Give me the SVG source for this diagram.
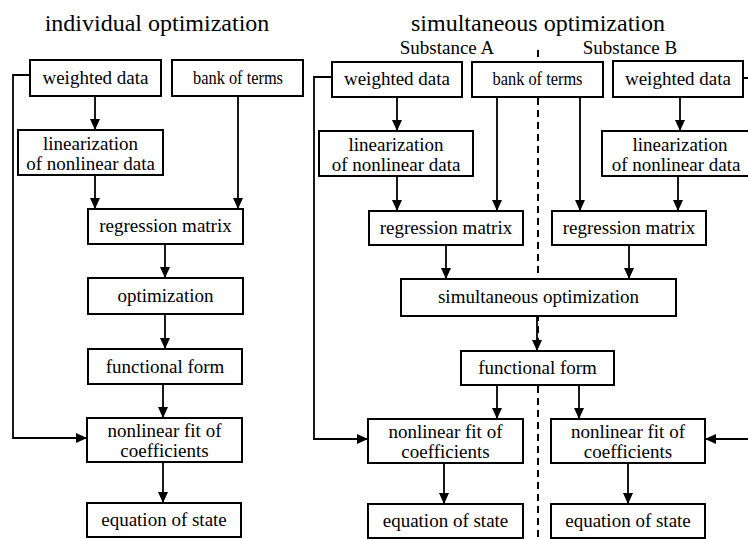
<svg xmlns="http://www.w3.org/2000/svg" width="748" height="539" viewBox="0 0 748 539">
<defs>
<marker id="ah" markerUnits="userSpaceOnUse" markerWidth="12" markerHeight="10" refX="11" refY="5" orient="auto">
<path d="M0,0 L11,5 L0,10 Z" fill="#000"/>
</marker>
<style>
.box{fill:#fff;stroke:#000;stroke-width:2}
.c{fill:none;stroke:#000;stroke-width:1.8;marker-end:url(#ah)}
.dash{fill:none;stroke:#000;stroke-width:2;stroke-dasharray:7 5}
</style>
</defs>
<rect width="748" height="539" fill="#fff"/>
<g font-family="Liberation Serif, Tinos, Times New Roman, Noto Serif, DejaVu Serif, FreeSerif, serif" text-anchor="middle" fill="#000">
<text font-size="24" x="157" y="31">individual optimization</text>
<text font-size="24" x="538" y="31">simultaneous optimization</text>
<text font-size="19" x="447" y="54">Substance A</text>
<text font-size="19" x="630" y="54">Substance B</text>
</g>
<line class="dash" x1="538" y1="50" x2="538" y2="539"/>
<g id="connectors">
<line class="c" x1="95" y1="96" x2="95" y2="130"/>
<line class="c" x1="95" y1="175" x2="95" y2="209"/>
<line class="c" x1="238" y1="96" x2="238" y2="209"/>
<line class="c" x1="165" y1="244" x2="165" y2="278"/>
<line class="c" x1="165" y1="314" x2="165" y2="349"/>
<line class="c" x1="163" y1="384" x2="163" y2="418"/>
<line class="c" x1="163" y1="462" x2="163" y2="503"/>
<polyline class="c" points="30,75 13,75 13,438 87,438"/>
<line class="c" x1="397" y1="97" x2="397" y2="131"/>
<line class="c" x1="397" y1="176" x2="397" y2="211"/>
<line class="c" x1="497" y1="97" x2="497" y2="211"/>
<line class="c" x1="580" y1="97" x2="580" y2="211"/>
<line class="c" x1="680" y1="97" x2="680" y2="131"/>
<line class="c" x1="678" y1="176" x2="678" y2="211"/>
<line class="c" x1="446" y1="245" x2="446" y2="279"/>
<line class="c" x1="629" y1="245" x2="629" y2="279"/>
<line class="c" x1="537" y1="316" x2="537" y2="351"/>
<line class="c" x1="497" y1="385" x2="497" y2="419"/>
<line class="c" x1="579" y1="385" x2="579" y2="419"/>
<line class="c" x1="444" y1="463" x2="444" y2="504"/>
<line class="c" x1="628" y1="463" x2="628" y2="504"/>
<polyline class="c" points="332,77 314,77 314,439 368,439"/>
<polyline class="c" points="743,78 754,78 754,439 705,439"/>
</g>
<g font-family="Liberation Serif, Tinos, Times New Roman, Noto Serif, DejaVu Serif, FreeSerif, serif" font-size="19" text-anchor="middle" fill="#000">
<g id="wd1"><rect class="box" x="30" y="60" width="131" height="36"/><text x="95.5" y="84">weighted data</text></g>
<g id="bt1"><rect class="box" x="172" y="60" width="131" height="36"/><text x="238" y="84" textLength="90" lengthAdjust="spacingAndGlyphs">bank of terms</text></g>
<g id="lin1"><rect class="box" x="18" y="130" width="145" height="45"/><text x="90.5" y="150">linearization</text><text x="90.5" y="170">of nonlinear data</text></g>
<g id="rm1"><rect class="box" x="88" y="209" width="155" height="35"/><text x="165.5" y="232">regression matrix</text></g>
<g id="opt"><rect class="box" x="88" y="278" width="155" height="36"/><text x="165.5" y="302">optimization</text></g>
<g id="ff1"><rect class="box" x="88" y="349" width="154" height="35"/><text x="165" y="373">functional form</text></g>
<g id="nl1"><rect class="box" x="87" y="418" width="155" height="44"/><text x="164.5" y="437">nonlinear fit of</text><text x="164.5" y="457">coefficients</text></g>
<g id="eq1"><rect class="box" x="87" y="503" width="154" height="34"/><text x="164" y="526">equation of state</text></g>
<g id="wdA"><rect class="box" x="332" y="62" width="130" height="35"/><text x="397" y="85">weighted data</text></g>
<g id="bt2"><rect class="box" x="472" y="62" width="131" height="35"/><text x="537.5" y="85" textLength="90" lengthAdjust="spacingAndGlyphs">bank of terms</text></g>
<g id="wdB"><rect class="box" x="613" y="61" width="130" height="36"/><text x="678" y="85">weighted data</text></g>
<g id="linA"><rect class="box" x="319" y="131" width="154" height="45"/><text x="396" y="151">linearization</text><text x="396" y="171">of nonlinear data</text></g>
<g id="linB"><rect class="box" x="602" y="131" width="156" height="45"/><text x="680" y="151">linearization</text><text x="676" y="171">of nonlinear data</text></g>
<g id="rmA"><rect class="box" x="369" y="211" width="154" height="34"/><text x="446" y="234">regression matrix</text></g>
<g id="rmB"><rect class="box" x="552" y="211" width="154" height="34"/><text x="629" y="234">regression matrix</text></g>
<g id="sim"><rect class="box" x="401" y="279" width="275" height="37"/><text x="538.5" y="303">simultaneous optimization</text></g>
<g id="ff2"><rect class="box" x="461" y="351" width="153" height="34"/><text x="537.5" y="374">functional form</text></g>
<g id="nlA"><rect class="box" x="368" y="419" width="155" height="44"/><text x="445.5" y="438">nonlinear fit of</text><text x="445.5" y="458">coefficients</text></g>
<g id="nlB"><rect class="box" x="551" y="419" width="154" height="44"/><text x="628" y="438">nonlinear fit of</text><text x="628" y="458">coefficients</text></g>
<g id="eqA"><rect class="box" x="368" y="504" width="155" height="34"/><text x="445.5" y="527">equation of state</text></g>
<g id="eqB"><rect class="box" x="551" y="504" width="154" height="34"/><text x="628" y="527">equation of state</text></g>
</g>
</svg>
